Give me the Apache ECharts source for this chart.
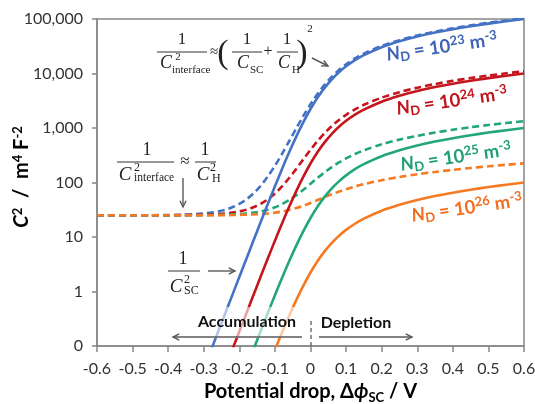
<!DOCTYPE html>
<html><head><meta charset="utf-8">
<script src="https://cdn.jsdelivr.net/npm/echarts@6/dist/echarts.min.js"></script>
<style>html,body{margin:0;padding:0;background:#fff}#c{width:535px;height:404px}</style>
</head><body><div id="c"></div>
<script>
// ---- data ----
const xs = [-0.6,-0.5,-0.45,-0.4,-0.36,-0.32,-0.3,-0.28,-0.26,-0.24,-0.22,-0.2,-0.18,-0.16,-0.14,-0.12,-0.1,-0.08,-0.06,-0.04,-0.02,0,0.02,0.04,0.06,0.08,0.1,0.125,0.15,0.2,0.25,0.3,0.35,0.4,0.45,0.5,0.55,0.6];
const xTickLabels = ['-0.6','-0.5','-0.4','-0.3','-0.2','-0.1','0','0.1','0.2','0.3','0.4','0.5','0.6'];
const yTickLabels = ['0','1','10','100','1,000','10,000','100,000'];

const blueSolid   = [null,null,null,null,null,null,null,0.082,0.18,0.39,0.85,1.85,4.0,8.7,18.8,40.3,85,177,358,696,1284,2230,3622,5498,7830,10543,13538,17545,21720,30286,38942,47624,56303,64982,73657,82354,91029,99703];
const redSolid    = [null,null,null,null,null,null,null,null,null,null,0.085,0.185,0.40,0.87,1.88,4.03,8.53,17.7,35.8,69.6,128,223,362,550,783,1054,1354,1755,2172,3029,3894,4762,5630,6498,7366,8235,9103,9970];
const greenSolid  = [null,null,null,null,null,null,null,null,null,null,null,null,null,0.087,0.188,0.403,0.853,1.77,3.58,6.96,12.8,22.3,36.2,55.0,78.3,105,135,176,217,303,389,476,563,650,737,824,910,997];
const orangeSolid = [null,null,null,null,null,null,null,null,null,null,null,null,null,null,null,null,0.085,0.177,0.358,0.696,1.28,2.23,3.62,5.50,7.83,10.5,13.5,17.5,21.7,30.3,38.9,47.6,56.3,65.0,73.7,82.4,91.0,99.7];

const blueDashed   = [25.0,25.04,25.1,25.3,25.6,26.3,27.0,28.0,29.4,31.6,35.1,40.5,49.1,63.2,87.2,129,203,335,573,985,1667,2727,4249,6265,8740,11595,14727,18896,23219,32052,40939,49829,58700,67560,76396,85248,94071,102886];
const redDashed    = [25.0,25.01,25.03,25.09,25.19,25.42,25.62,25.91,26.36,27.02,28.0,29.5,31.7,35.2,40.6,49.1,62.7,84.8,120.7,178,267,397,578,809,1088,1404,1747,2199,2663,3604,4543,5477,6405,7334,8249,9168,10082,10994];
const greenDashed  = [25.0,25.0,25.01,25.03,25.06,25.13,25.19,25.29,25.43,25.63,25.93,26.38,27.04,28.04,29.52,31.75,35.09,40.08,47.51,58.33,73.67,94.5,121.4,154.1,191.8,233.1,276.8,333,389.6,502,611.7,719.4,825.3,929.7,1033,1135.5,1237,1337.7];
const orangeDashed = [25.0,25.0,25.0,25.01,25.02,25.04,25.06,25.09,25.13,25.2,25.29,25.43,25.64,25.94,26.39,27.05,28.01,29.39,31.34,34.04,37.61,42.16,47.65,53.95,60.81,68.0,75.34,84.44,93.33,110.3,126.3,141.6,156.3,170.6,184.5,198.1,211.4,224.6];

const dopingExp = ['23','24','25','26'];

// ---- styling ----
const C = {blue:'#4472C4', red:'#C5161D', green:'#22A67A', orange:'#F57A22'};
const LBL = {blue:'#3F63B8', red:'#C0141C', green:'#1F9F72', orange:'#F26F21'};
const AX = '#878787';
const ARW = '#595959';

function pairs(arr){ return xs.map((x,i)=> arr[i]==null ? null : [x, arr[i]]).filter(p=>p); }
function line(name, arr, color, dashed){
  return {name, type:'line', data:pairs(arr), symbol:'none', showSymbol:false, smooth:0.3,
    lineStyle:{color, width:2.6, type: dashed ? [7,4] : 'solid'}, z: dashed ? 2 : 3,
    clip:true, silent:true, animation:false};
}

const chart = echarts.init(document.getElementById('c'));
const serif = 'Liberation Serif';
function t(x,y,text,size,o){ o=o||{}; return {type:'text', x, y, z:20, silent:true,
  style:{text, fontSize:size, fontFamily:serif, fontStyle:o.i?'italic':'normal', fill:'#222',
  align:o.a||'center', verticalAlign:'middle'}}; }
function bar(x1,x2,y){ return {type:'line', z:20, silent:true, shape:{x1,y1:y,x2,y2:y}, style:{stroke:'#333', lineWidth:1}}; }
function arrow(x1,y1,x2,y2){
  const dx=x2-x1, dy=y2-y1, L=Math.hypot(dx,dy), ux=dx/L, uy=dy/L, h=7, a=0.45;
  const p1=[x2-h*(ux*Math.cos(a)-uy*Math.sin(a)), y2-h*(uy*Math.cos(a)+ux*Math.sin(a))];
  const p2=[x2-h*(ux*Math.cos(a)+uy*Math.sin(a)), y2-h*(uy*Math.cos(a)-ux*Math.sin(a))];
  return [{type:'line', z:20, silent:true, shape:{x1,y1,x2,y2}, style:{stroke:ARW, lineWidth:1.4}},
          {type:'polyline', z:20, silent:true, shape:{points:[p1,[x2,y2],p2]}, style:{stroke:ARW, lineWidth:1.4, fill:null}}];
}
function ndLabel(x,y,exp,color){
  return {type:'text', x, y, z:20, silent:true, rotation:0.14,
    style:{text:'{n|N}{s|D}{b| = 10}{p|'+exp+'}{b| m}{p|-3}', fill:color, align:'center', verticalAlign:'middle',
      rich:{
        n:{fontFamily:'Lato', fontWeight:'bold', fontStyle:'italic', fontSize:18.5, fill:color, lineHeight:22, verticalAlign:'middle'},
        b:{fontFamily:'Lato', fontWeight:'bold', fontSize:18.5, fill:color, lineHeight:22, verticalAlign:'middle'},
        s:{fontFamily:'Lato', fontWeight:'bold', fontSize:13, fill:color, lineHeight:13, verticalAlign:'bottom'},
        p:{fontFamily:'Lato', fontWeight:'bold', fontSize:13, fill:color, lineHeight:13, verticalAlign:'top'}
      }}};
}

const graphics = [
  // y axis title
  {type:'text', x:22, y:177, z:20, silent:true, rotation:Math.PI/2,
    style:{text:'{c|C}{p|2}{a|  /  m}{p|4}{a| F}{p|-2}', align:'center', verticalAlign:'middle',
      rich:{
        c:{fontFamily:'Lato', fontWeight:'bold', fontStyle:'italic', fontSize:20, fill:'#000', lineHeight:22, verticalAlign:'middle'},
        a:{fontFamily:'Lato', fontWeight:'bold', fontSize:20, fill:'#000', lineHeight:22, verticalAlign:'middle'},
        p:{fontFamily:'Lato', fontWeight:'bold', fontSize:13, fill:'#000', lineHeight:13, verticalAlign:'top'}}}},
  // top equation
  t(182,40,'1',17), bar(157,207,52), t(166,63,'C',18,{i:1}), t(178,57,'2',11), t(172,70,'interface',11,{a:'left'}),
  t(214,52,'≈',15), t(223,54,'(',34),
  t(247,40,'1',17), bar(232,262,52), t(243,63,'C',18,{i:1}), t(250,70,'SC',11,{a:'left'}),
  t(268,52,'+',16),
  t(287,40,'1',17), bar(277,298,52), t(284,63,'C',18,{i:1}), t(292,70,'H',11,{a:'left'}),
  t(302,54,')',34), t(310,29,'2',11),
  ...arrow(312,58,328,66),
  // middle equation
  t(147,150,'1',18), bar(117,174,162), t(125,175,'C',19,{i:1}), t(137,168,'2',12), t(134,178,'interface',11.5,{a:'left'}),
  t(185,162,'≈',17),
  t(205,150,'1',18), bar(195,216,162), t(203,175,'C',19,{i:1}), t(213,168,'2',12), t(212,179,'H',12,{a:'left'}),
  ...arrow(183,178,183,207),
  // bottom equation
  t(183,259,'1',18), bar(168,200,271), t(176,287,'C',19,{i:1}), t(187,280,'2',12), t(184,291,'SC',12,{a:'left'}),
  ...arrow(208,271,235,271),
  // accumulation / depletion
  {type:'rect', z:15, silent:true, shape:{x:172, y:307, width:131, height:31}, style:{fill:'rgba(255,255,255,0.6)'}},
  {type:'text', x:247, y:322, z:20, silent:true, style:{text:'Accumulation', fontFamily:'Lato', fontWeight:'bold', fontSize:16, fill:'#111', align:'center', verticalAlign:'middle'}},
  {type:'text', x:356, y:323, z:20, silent:true, style:{text:'Depletion', fontFamily:'Lato', fontWeight:'bold', fontSize:16, fill:'#111', align:'center', verticalAlign:'middle'}},
  ...arrow(302,337,173,337),
  ...arrow(319,337,412,337),
  {type:'line', z:20, silent:true, shape:{x1:311,y1:321,x2:311,y2:346}, style:{stroke:ARW, lineWidth:1.3, lineDash:[4,3]}},
  // doping labels
  ndLabel(442,47,dopingExp[0],LBL.blue),
  ndLabel(452,101,dopingExp[1],LBL.red),
  ndLabel(456,157,dopingExp[2],LBL.green),
  ndLabel(467,208,dopingExp[3],LBL.orange)
];

chart.setOption({
  animation:false,
  backgroundColor:'#fff',
  grid:{left:97, right:11, top:19, bottom:58, outerBoundsMode:'none', containLabel:false,
    show:true, borderColor:AX, borderWidth:1.5, backgroundColor:'transparent'},
  xAxis:{type:'value', min:-0.6, max:0.6, interval:0.1,
    axisLine:{show:true, onZero:false, lineStyle:{color:AX, width:1.5}},
    axisTick:{show:true, length:6, lineStyle:{color:AX, width:1.5}},
    splitLine:{show:false},
    axisLabel:{formatter:v=>xTickLabels[Math.round((v+0.6)*10)], color:'#333', fontFamily:'Lato', fontSize:16, margin:15},
    name:'{a|Potential drop, Δ}{b|ϕ}{s|SC}{a| / V}', nameLocation:'middle', nameGap:31,
    nameTextStyle:{rich:{
      a:{fontFamily:'Lato', fontWeight:'bold', fontSize:20, color:'#000', lineHeight:24, verticalAlign:'middle'},
      b:{fontFamily:'Lato', fontWeight:'bold', fontStyle:'italic', fontSize:20, color:'#000', lineHeight:24, verticalAlign:'middle'},
      s:{fontFamily:'Lato', fontWeight:'bold', fontSize:13, color:'#000', lineHeight:13, verticalAlign:'bottom'}}}
  },
  yAxis:{type:'log', logBase:10, min:0.1, max:100000, splitNumber:6,
    axisLine:{show:true, onZero:false, lineStyle:{color:AX, width:1.5}},
    axisTick:{show:true, length:5, lineStyle:{color:AX, width:1.5}},
    minorTick:{show:false}, splitLine:{show:false},
    axisLabel:{formatter:v=>yTickLabels[Math.round(Math.log10(v))+1], color:'#333', fontFamily:'Lato', fontSize:16, margin:14}
  },
  series:[
    line('blue dashed', blueDashed, C.blue, true),
    line('red dashed', redDashed, C.red, true),
    line('green dashed', greenDashed, C.green, true),
    line('orange dashed', orangeDashed, C.orange, true),
    line('blue', blueSolid, C.blue, false),
    line('red', redSolid, C.red, false),
    line('green', greenSolid, C.green, false),
    line('orange', orangeSolid, C.orange, false)
  ],
  graphic:{elements:graphics}
});
</script></body></html>
